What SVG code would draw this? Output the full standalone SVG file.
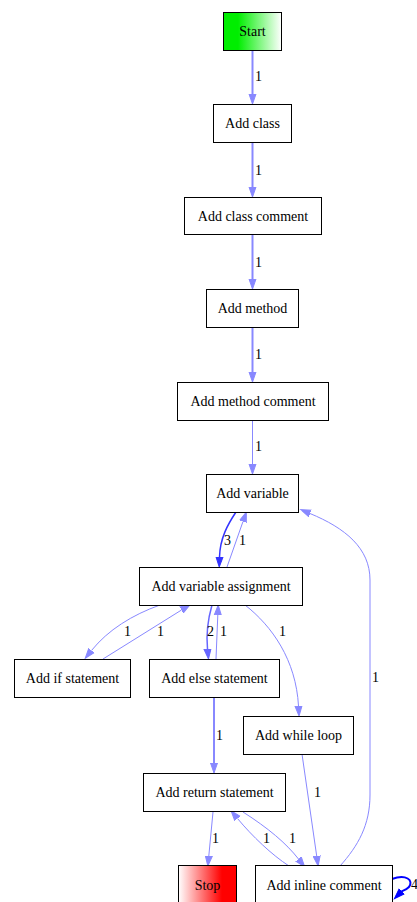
<svg xmlns="http://www.w3.org/2000/svg" width="417" height="902" viewBox="0 0 417 902" font-family="'Liberation Serif', 'Times New Roman', serif" font-size="14">
<defs>
<linearGradient id="gStart" x1="0" y1="0" x2="1" y2="0"><stop offset="0" stop-color="#00ee00"/><stop offset="0.25" stop-color="#00ee00"/><stop offset="1" stop-color="#ffffff"/></linearGradient>
<linearGradient id="gStop" x1="0" y1="0" x2="1" y2="0"><stop offset="0" stop-color="#ffffff"/><stop offset="0.75" stop-color="#ff0000"/><stop offset="1" stop-color="#ff0000"/></linearGradient>
<marker id="aL" markerUnits="userSpaceOnUse" markerWidth="12" markerHeight="10" refX="0" refY="5" orient="auto" viewBox="0 0 12 10"><path d="M0,1.5 L10,5 L0,8.5 z" fill="#8888ff" stroke="#8888ff"/></marker>
<marker id="aM" markerUnits="userSpaceOnUse" markerWidth="12" markerHeight="10" refX="0" refY="5" orient="auto" viewBox="0 0 12 10"><path d="M0,1.5 L10,5 L0,8.5 z" fill="#6666ff" stroke="#6666ff"/></marker>
<marker id="aD" markerUnits="userSpaceOnUse" markerWidth="12" markerHeight="10" refX="0" refY="5" orient="auto" viewBox="0 0 12 10"><path d="M0,1.5 L10,5 L0,8.5 z" fill="#3333ff" stroke="#3333ff"/></marker>
<marker id="aB" markerUnits="userSpaceOnUse" markerWidth="12" markerHeight="10" refX="0" refY="5" orient="auto" viewBox="0 0 12 10"><path d="M0,1.5 L10,5 L0,8.5 z" fill="#0000ff" stroke="#0000ff"/></marker>
</defs>
<style>
.n rect{fill:#fff;stroke:#000;stroke-width:1}
text{font-family:'Liberation Serif','Times New Roman',serif;font-size:14px;fill:#000}
.n text{text-anchor:middle}
.e path{fill:none}
.l{stroke:#8888ff;stroke-width:1;marker-end:url(#aL)}
.t{stroke:#8888ff;stroke-width:2;marker-end:url(#aL)}
.m{stroke:#6666ff;stroke-width:1.5;marker-end:url(#aM)}
.d{stroke:#3333ff;stroke-width:1.5;marker-end:url(#aD)}
.b{stroke:#0000ff;stroke-width:2;marker-end:url(#aB)}
</style>
<g id="edges" class="e">
<path class="t" d="M252.5,50 L252.5,94"/>
<path class="t" d="M252.5,142 L252.5,187"/>
<path class="t" d="M252.5,234 L252.5,279"/>
<path class="t" d="M252.5,327 L252.5,372"/>
<path class="l" d="M252.5,420 L252.5,464"/>
<path class="d" d="M236,512 C228,524 220,538 219.5,557"/>
<path class="l" d="M227,567 L243,521.5"/>
<path class="l" d="M160,605 C132,615 108,630 91.5,650.5"/>
<path class="l" d="M103,659 L181.5,610"/>
<path class="m" d="M212,605 C208,619 206,634 207.5,649"/>
<path class="l" d="M216,659 L217.8,615"/>
<path class="l" d="M245,605 C272,626 296,660 298.5,706"/>
<path class="t" d="M214,697 L214,763"/>
<path class="l" d="M302,754 L316.7,856"/>
<path class="l" d="M243,812 C268,828 286,843 298.5,859"/>
<path class="l" d="M289,866 C272,855 252,836 237.5,818.5"/>
<path class="l" d="M213,812 L208.8,856"/>
<path class="l" d="M340,866 C358,846 370,825 370,795 L370,580 C370,548 345,528 310,513.5"/>
<path class="b" d="M392,879 C406,874 414,880 409,887 C406,890 402,891 401.5,891.5"/>
<text x="255" y="81">1</text>
<text x="255" y="175">1</text>
<text x="255" y="267">1</text>
<text x="255" y="359">1</text>
<text x="255" y="451">1</text>
<text x="224" y="545">3</text>
<text x="239" y="545">1</text>
<text x="124" y="636">1</text>
<text x="157" y="636">1</text>
<text x="207" y="636">2</text>
<text x="220" y="636">1</text>
<text x="279" y="636">1</text>
<text x="216" y="740">1</text>
<text x="314" y="797">1</text>
<text x="289" y="843">1</text>
<text x="263" y="843">1</text>
<text x="212" y="843">1</text>
<text x="372" y="682">1</text>
<text x="411" y="889">4</text>
</g>
<g id="start" class="n"><rect x="223.5" y="12.5" width="58" height="38" style="fill:url(#gStart)"/><text x="252.5" y="36">Start</text></g>
<g id="addClass" class="n"><rect x="213.5" y="104.5" width="78" height="38"/><text x="252.5" y="128">Add class</text></g>
<g id="addClassComment" class="n"><rect x="184.5" y="197.5" width="137" height="37"/><text x="253" y="220.5">Add class comment</text></g>
<g id="addMethod" class="n"><rect x="206.5" y="289.5" width="92" height="38"/><text x="252.5" y="313">Add method</text></g>
<g id="addMethodComment" class="n"><rect x="177.5" y="382.5" width="151" height="38"/><text x="253" y="406">Add method comment</text></g>
<g id="addVariable" class="n"><rect x="206.5" y="474.5" width="92" height="38"/><text x="252.5" y="498">Add variable</text></g>
<g id="addVariableAssignment" class="n"><rect x="139.5" y="567.5" width="163" height="38"/><text x="221" y="591">Add variable assignment</text></g>
<g id="addIf" class="n"><rect x="14.5" y="659.5" width="116" height="38"/><text x="72.5" y="683">Add if statement</text></g>
<g id="addElse" class="n"><rect x="149.5" y="659.5" width="130" height="38"/><text x="214.5" y="683">Add else statement</text></g>
<g id="addWhile" class="n"><rect x="243.5" y="716.5" width="110" height="38"/><text x="298.5" y="740">Add while loop</text></g>
<g id="addReturn" class="n"><rect x="143.5" y="773.5" width="142" height="38"/><text x="214.5" y="797">Add return statement</text></g>
<g id="stop" class="n"><rect x="178.5" y="865.5" width="58" height="40" style="fill:url(#gStop)"/><text x="207.5" y="890">Stop</text></g>
<g id="addInline" class="n"><rect x="255.5" y="865.5" width="137" height="40"/><text x="324" y="890">Add inline comment</text></g>
</svg>
